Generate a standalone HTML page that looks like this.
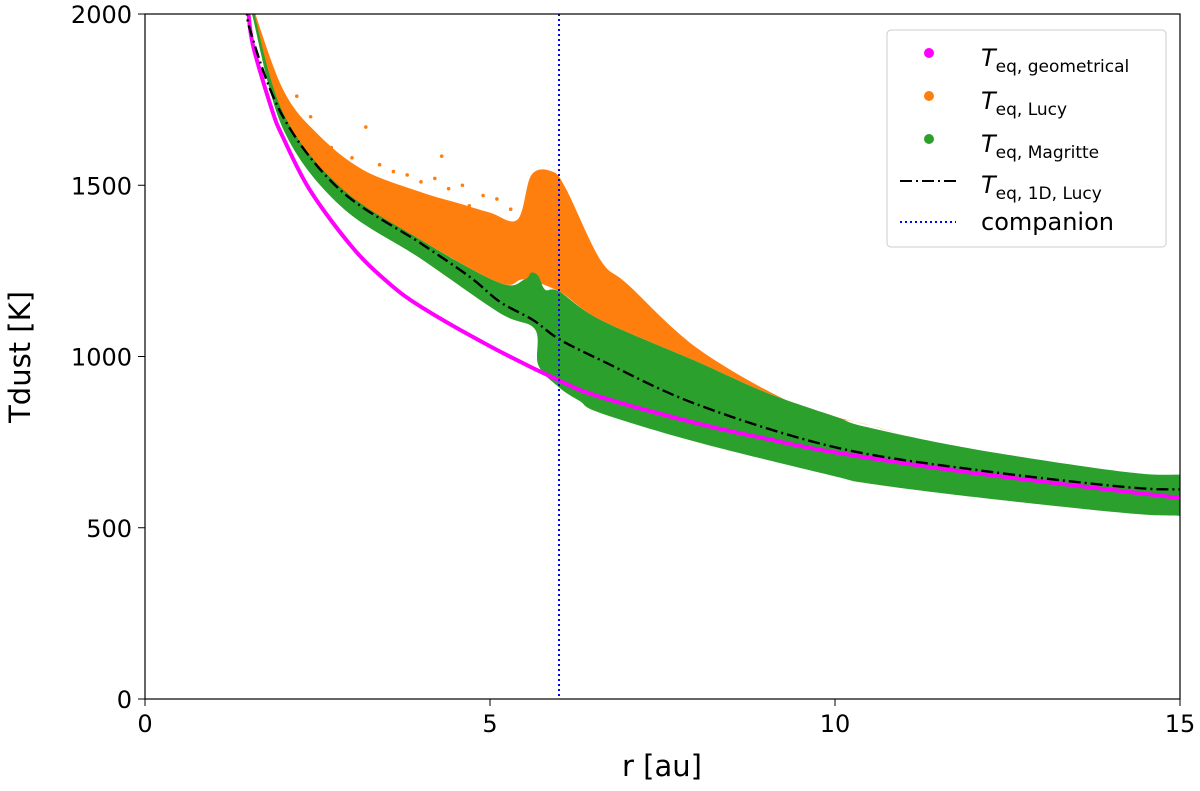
<!DOCTYPE html>
<html><head><meta charset="utf-8">
<style>
body{margin:0;background:#fff;font-family:"DejaVu Sans","Liberation Sans",sans-serif;}
svg text{font-family:"DejaVu Sans","Liberation Sans",sans-serif;}
</style></head>
<body>
<svg id="chart" width="1200" height="787" xmlns="http://www.w3.org/2000/svg">
<defs><clipPath id="clip"><rect x="145" y="14" width="1035" height="685"/></clipPath></defs>
<g id="plot" clip-path="url(#clip)"></g>
<rect x="145" y="14" width="1035" height="685" fill="none" stroke="#000" stroke-width="1.2"/>
<g id="ticks"></g>
<text x="662" y="776" font-size="29" text-anchor="middle">r [au]</text>
<text transform="translate(30,357) rotate(-90)" font-size="29" text-anchor="middle">Tdust [K]</text>
<g>
<rect x="887" y="30" width="279" height="217" rx="4" fill="#fff" stroke="#ccc"/>
<circle cx="929" cy="53" r="5" fill="#ff00ff"/>
<circle cx="929" cy="96" r="5" fill="#ff7f0e"/>
<circle cx="929" cy="139" r="5" fill="#2ca02c"/>
<line x1="900" y1="181" x2="956" y2="181" stroke="#000" stroke-width="2" stroke-dasharray="12,4,2,4"/>
<line x1="900" y1="222" x2="956" y2="222" stroke="#00f" stroke-width="2" stroke-dasharray="2,3"/>
<text x="981" y="66" font-size="24"><tspan font-style="italic">T</tspan><tspan font-size="17" dy="6">eq, geometrical</tspan></text>
<text x="981" y="109" font-size="24"><tspan font-style="italic">T</tspan><tspan font-size="17" dy="6">eq, Lucy</tspan></text>
<text x="981" y="152" font-size="24"><tspan font-style="italic">T</tspan><tspan font-size="17" dy="6">eq, Magritte</tspan></text>
<text x="981" y="193" font-size="24"><tspan font-style="italic">T</tspan><tspan font-size="17" dy="6">eq, 1D, Lucy</tspan></text>
<text x="981" y="230" font-size="24">companion</text>
</g>
</svg>
<script>
const geoR=[1.5,1.57,1.84,2,2.39,3,3.5,4,5,6,6.6,8,9,10,12,15];
const geoT=[2000,1904,1720,1640,1486,1320,1220,1145,1030,930,882,805,760,720,660,587];
const lineR=[1.5,1.52,2,2.83,4,4.71,5.14,5.62,6,6.6,8,10,12,14.2,15];
const lineT=[2030,1955,1700,1486,1330,1232,1160,1107,1051,990,860,735,670,619,612];
const grnUpR=[1.55,2,2.83,4,5.14,5.5,5.6,5.7,5.8,6,6.6,8,9,10,10.46,12,14.2,15];
const grnUpT=[2030,1712,1495,1340,1215,1225,1245,1235,1195,1190,1107,985,895,825,794,730,663,655];
const grnLoR=[1.55,2,2.83,4,5.14,5.65,5.7,6,6.3,6.6,8,10,10.46,12,14.2,15];
const grnLoT=[2000,1665,1440,1285,1127,1080,975,910,870,835,750,650,630,590,543,535];
const orUpR=[1.55,2,2.5,3.16,4,4.5,5,5.4,5.6,5.9,6.1,6.6,7,8.04,9.5,10.5,11];
const orUpT=[2030,1780,1650,1545,1480,1450,1420,1400,1530,1540,1490,1282,1210,1019,853,800,770];
const orLoR=[1.55,2,2.83,4,5.14,5.5,6,6.6,8,9,10,10.5];
const orLoT=[2000,1710,1490,1340,1215,1225,1190,1107,985,895,825,800];
const dotR=[2.7,3.0,3.2,3.4,3.6,3.8,4.0,4.2,4.4,4.6,4.9,5.1,4.3,3.9,4.7,5.3,2.4,2.2];
const dotT=[1610,1580,1670,1560,1540,1530,1510,1520,1490,1500,1470,1460,1585,1470,1440,1430,1700,1760];
const comp=6;
const xTicks=[0,5,10,15], yTicks=[0,500,1000,1500,2000];
const X=r=>145+r*69, Y=t=>699-t*0.3425;
const NS="http://www.w3.org/2000/svg";
const plot=document.getElementById('plot'), tk=document.getElementById('ticks');
function mk(tag,at,p){const e=document.createElementNS(NS,tag);for(const k in at)e.setAttribute(k,at[k]);p.appendChild(e);return e;}
function smooth(pts){ // catmull-rom path
 let d='M'+pts[0][0]+','+pts[0][1];
 for(let i=0;i<pts.length-1;i++){
  const p0=pts[Math.max(0,i-1)],p1=pts[i],p2=pts[i+1],p3=pts[Math.min(pts.length-1,i+2)];
  const c1=[p1[0]+(p2[0]-p0[0])/6,p1[1]+(p2[1]-p0[1])/6],c2=[p2[0]-(p3[0]-p1[0])/6,p2[1]-(p3[1]-p1[1])/6];
  d+=' C'+c1+' '+c2+' '+p2;
 }
 return d;
}
function band(uR,uT,lR,lT,c,name){
 const up=uR.map((r,i)=>[X(r),Y(uT[i])]);
 const lo=lR.map((r,i)=>[X(r),Y(lT[i])]).reverse();
 let d=smooth(up)+' L'+lo[0]+' '+smooth(lo).slice(1)+' Z';
 const e=mk('path',{d:d,fill:c},plot);
 
 
}
band(orUpR,orUpT,orLoR,orLoT,'#ff7f0e','lucy-band');
dotR.forEach((r,i)=>{const c=mk('circle',{cx:X(r),cy:Y(dotT[i]),r:1.8,fill:'#ff7f0e'},plot);
 
 });
band(grnUpR,grnUpT,grnLoR,grnLoT,'#2ca02c','magritte-band');
const gp=mk('path',{d:smooth(geoR.map((r,i)=>[X(r),Y(geoT[i])])),fill:'none',stroke:'#ff00ff','stroke-width':4},plot);


const lp=mk('path',{d:smooth(lineR.map((r,i)=>[X(r),Y(lineT[i])])),fill:'none',stroke:'#000','stroke-width':2.4,'stroke-dasharray':'12,4,2,4'},plot);


const cl=mk('line',{x1:X(comp),x2:X(comp),y1:14,y2:699,stroke:'#00f','stroke-width':2,'stroke-dasharray':'2,3'},plot);


xTicks.forEach(v=>{mk('line',{x1:X(v),x2:X(v),y1:699,y2:706,stroke:'#000'},tk);
 const t=mk('text',{x:X(v),y:732,'font-size':24,'text-anchor':'middle'},tk);t.textContent=v;
 
 });
yTicks.forEach(v=>{mk('line',{x1:138,x2:145,y1:Y(v),y2:Y(v),stroke:'#000'},tk);
 const t=mk('text',{x:132,y:Y(v)+9,'font-size':24,'text-anchor':'end'},tk);t.textContent=v;
 
 });
</script>
</body></html>
